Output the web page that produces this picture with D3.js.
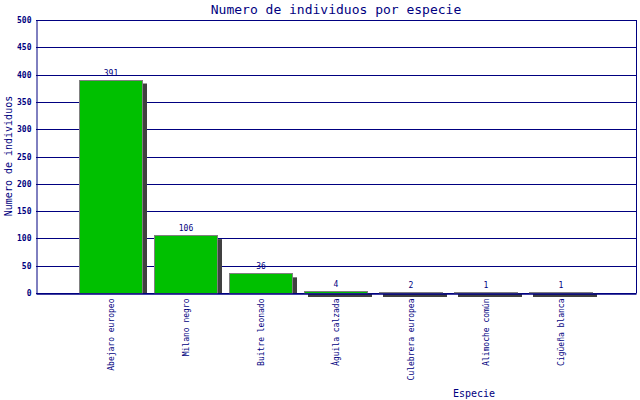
<!DOCTYPE html>
<html>
<head>
<meta charset="utf-8">
<script src="https://cdn.jsdelivr.net/npm/d3@7"></script>
<style>
  body { margin: 0; background: #fff; }
  text { font-family: "DejaVu Sans Mono", "Liberation Mono", monospace; fill: #000080; }
</style>
</head>
<body>
<div id="chart"></div>
<script>
// Data
const especies = ["Abejaro europeo", "Milano negro", "Buitre leonado", "Águila calzada",
                  "Culebrera europea", "Alimoche común", "Cigüeña blanca"];
const individuos = [391, 106, 36, 4, 2, 1, 1];
const yTicks = [0, 50, 100, 150, 200, 250, 300, 350, 400, 450, 500];

const width = 640, height = 400;
const margin = { top: 20, right: 4, bottom: 107, left: 36 };

const svg = d3.select('#chart')
    .append('svg')
    .attr('width', width)
    .attr('height', height);

const x = d3.scalePoint()
    .domain(especies)
    .range([margin.left, width - margin.right])
    .padding(1);

const y = d3.scaleLinear()
    .domain([0, 500])
    .range([height - margin.bottom, margin.top]);

const barW = 64, shadow = 4;
const navy = '#000080';
const y0 = y(0);

// Grid lines
svg.append('g')
    .selectAll('line')
    .data(yTicks)
    .enter()
    .append('line')
    .attr('x1', margin.left)
    .attr('x2', width - margin.right)
    .attr('y1', d => Math.round(y(d)) + 0.5)
    .attr('y2', d => Math.round(y(d)) + 0.5)
    .attr('stroke', navy)
    .attr('stroke-width', 1);

// Right border
svg.append('line')
    .attr('x1', width - margin.right + 0.5)
    .attr('x2', width - margin.right + 0.5)
    .attr('y1', margin.top)
    .attr('y2', y0 + 0.5)
    .attr('stroke', navy);

// Shadows: stop at the axis for tall bars, show a strip under it for tiny ones
const shTop = d => Math.min(y(d) + shadow, y0);
const shBottom = d => (y0 - y(d) >= shadow) ? y0 : y0 + shadow;
svg.append('g')
    .selectAll('rect')
    .data(individuos)
    .enter()
    .append('rect')
    .attr('x', (d, i) => x(especies[i]) - barW / 2 + shadow)
    .attr('y', d => shTop(d))
    .attr('width', barW)
    .attr('height', d => shBottom(d) - shTop(d))
    .attr('fill', '#404040');

// Bars
svg.append('g')
    .selectAll('rect')
    .data(individuos)
    .enter()
    .append('rect')
    .attr('x', (d, i) => x(especies[i]) - barW / 2 + 0.5)
    .attr('y', d => Math.round(y(d)) + 0.5)
    .attr('width', barW - 1)
    .attr('height', d => Math.max(Math.round(y0 - y(d)), 0))
    .attr('fill', '#00c000')
    .attr('stroke', '#808080')
    .attr('stroke-width', 1);

// Value labels
svg.append('g')
    .selectAll('text')
    .data(individuos)
    .enter()
    .append('text')
    .attr('x', (d, i) => x(especies[i]))
    .attr('y', d => y(d) - 4)
    .attr('text-anchor', 'middle')
    .style('font-size', '8px')
    .text(d => d);

// Y axis
const yAxis = svg.append('g')
    .attr('transform', `translate(${margin.left + 0.5},0)`)
    .call(d3.axisLeft(y).tickValues(yTicks).tickSize(0).tickPadding(5));
yAxis.select('.domain').attr('stroke', navy);
yAxis.selectAll('text')
    .style('font-size', '8px')
    .style('font-weight', 'bold')
    .attr('fill', navy);

// X axis
const xAxis = svg.append('g')
    .attr('transform', `translate(0,${y0 + 0.5})`)
    .call(d3.axisBottom(x).tickSize(0));
xAxis.select('.domain').attr('stroke', navy).attr('stroke-width', 1.5);
xAxis.selectAll('text')
    .attr('transform', 'rotate(-90)')
    .attr('x', -5)
    .attr('y', 0)
    .attr('dy', '0.32em')
    .attr('text-anchor', 'end')
    .style('font-size', '8px')
    .attr('fill', navy);

// Title
svg.append('text')
    .attr('x', 336)
    .attr('y', 14)
    .attr('text-anchor', 'middle')
    .style('font-size', '13px')
    .text('Numero de individuos por especie');

// Axis labels
svg.append('text')
    .attr('x', 474)
    .attr('y', 397)
    .attr('text-anchor', 'middle')
    .style('font-size', '10px')
    .text('Especie');

svg.append('text')
    .attr('transform', 'rotate(-90)')
    .attr('x', -156)
    .attr('y', 12)
    .attr('text-anchor', 'middle')
    .style('font-size', '10px')
    .text('Numero de individuos');
</script>
</body>
</html>
